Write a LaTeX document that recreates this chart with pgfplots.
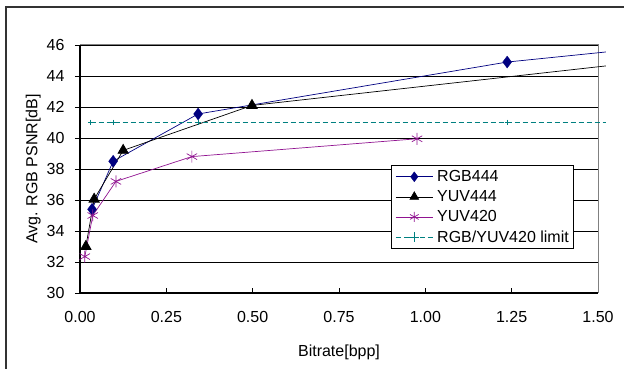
\documentclass[border=0pt]{standalone}
\usepackage{pgfplots}
\pgfplotsset{compat=1.18}
\usepackage{fontspec}
\setmainfont{Liberation Sans}
\definecolor{rgbc}{RGB}{0,0,128}
\definecolor{yuvc}{RGB}{145,20,145}
\definecolor{limc}{RGB}{0,128,128}
\begin{document}
\begin{tikzpicture}[x=1pt,y=1pt]
\path[use as bounding box] (0,0) rectangle (624,369);
\draw[line width=1.5pt, black!80] (6,-2) -- (6,362) -- (630,362);
\begin{axis}[
  at={(80pt,76pt)}, anchor=south west,
  width=518pt, height=248pt, scale only axis,
  xmin=0, xmax=1.5, ymin=30, ymax=46,
  xtick={0,0.25,...,1.5}, ytick={30,32,...,46},
  /pgf/number format/assume math mode=true,
  tick label style={font=\fontsize{16}{18}\selectfont},
  xticklabel style={yshift=-15pt, /pgf/number format/.cd, fixed, fixed zerofill, precision=2},
  yticklabel style={xshift=-7pt},
  xtick align=inside, ytick align=outside,
  major tick length=5pt,
  xtick pos=bottom, ytick pos=left,
  tick style={black, line width=0.8pt},
  ymajorgrids, grid style={black, line width=0.8pt},
  axis line style={draw=none},
  xlabel={Bitrate[bpp]}, ylabel={Avg. RGB PSNR[dB]},
  label style={font=\fontsize{16}{18}\selectfont},
  xlabel style={yshift=-15pt},
  ylabel style={yshift=-1pt},
  clip=false,
  legend style={at={(0.6004,0.516)}, anchor=north west, draw=black, line width=0.8pt,
    font=\fontsize{16}{18}\selectfont, inner xsep=4pt, inner ysep=4pt, row sep=5.5pt,
    nodes={inner sep=1pt},
    /tikz/every odd column/.append style={column sep=3pt},
    cells={anchor=west}},
  legend cell align=left,
  legend image code/.code={\draw[mark indices={2}, mark size=5pt] plot coordinates {(0pt,0pt) (18.5pt,0pt) (37pt,0pt)};},
]
\draw[gray, line width=1pt] (axis cs:0,46) -- (axis cs:1.5,46) -- (axis cs:1.5,30);
\draw[black, line width=1.2pt] (axis cs:0,46) -- (axis cs:0,30) -- (axis cs:1.5,30);
\addplot[color=rgbc, line width=0.7pt, mark=diamond*, mark size=6pt, mark options={fill=rgbc, line width=0.3pt}, mark indices={1,2,3,4}]
 coordinates {(0.035,35.4) (0.096,38.5) (0.342,41.55) (1.237,44.9) (1.523,45.55)};
\addlegendentry{RGB444}
\addplot[color=black, line width=0.7pt, mark=triangle*, mark size=6pt, mark options={fill=black}, mark indices={1,2,3,4}]
 coordinates {(0.017,33.0) (0.041,36.05) (0.125,39.2) (0.498,42.1) (1.523,44.65)};
\addlegendentry{YUV444}
\addplot[color=yuvc, line width=0.7pt, mark=asterisk, mark size=6pt, mark options={line width=0.7pt}, mark indices={1,2,3,4,5}]
 coordinates {(0.014,32.35) (0.037,35.0) (0.104,37.2) (0.324,38.8) (0.976,39.95)};
\addlegendentry{YUV420}
\addplot[color=limc, line width=0.8pt, dash pattern=on 5pt off 3pt, mark=+, mark size=2.5pt, mark options={solid, line width=0.6pt}, mark indices={1,2,3,4}]
 coordinates {(0.031,41.03) (0.096,41.03) (0.342,41.03) (1.237,41.03) (1.523,41.03)};
\addlegendentry{RGB/YUV420 limit}
\end{axis}
\end{tikzpicture}
\end{document}
